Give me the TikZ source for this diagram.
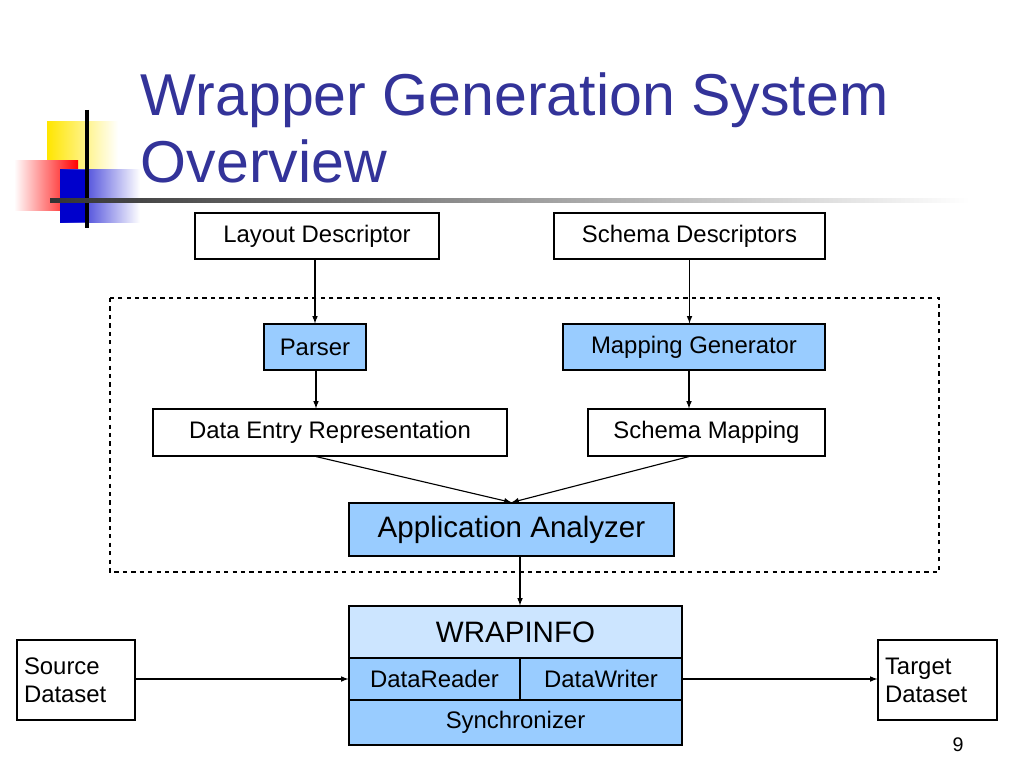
\documentclass[tikz,border=0pt]{standalone}
\usepackage{fontspec}
\setmainfont{Liberation Sans}
\usetikzlibrary{positioning}
\definecolor{titleblue}{RGB}{51,51,153}
\definecolor{boxblue}{RGB}{153,204,255}
\definecolor{paleblue}{RGB}{204,229,255}
\begin{document}
\begin{tikzpicture}[x=0.025cm, y=-0.025cm,
    box/.style = {draw, thick, inner sep=0pt, font=\fontsize{17}{20}\selectfont},
    blue/.style = {box, fill=boxblue},
    link/.style = {-latex, thick}]
    \useasboundingbox (0,0) rectangle (1024,768);

    % logo and title rule
    \shade[left color=yellow!80!orange, right color=white] (47,122) rectangle (118,190);
    \shade[left color=white, right color=red] (14,161) rectangle (78,210);
    \shade[left color=blue!80!black, right color=white] (60,170) rectangle (140,222);
    \fill[blue!80!black] (60,170) rectangle (88,222);
    \draw[line width=2.5pt] (87,110) -- (87,228);
    \shade[left color=black!80, right color=white] (50,198) rectangle (970,202);
    \node[anchor=west, text=titleblue, align=left, font=\fontsize{42}{48}\selectfont] (title) at (136,128) {Wrapper Generation System\\Overview};

    % inputs
    \node[box, minimum width=244*0.025cm, minimum height=46*0.025cm] (layout) at (317,236) {Layout Descriptor};
    \node[box, minimum width=271*0.025cm, minimum height=46*0.025cm] (schema) at (689.5,236) {Schema Descriptors};

    % generator
    \draw[thick, dashed] (110,298) rectangle (939,572);
    \node[blue, minimum width=102*0.025cm, minimum height=46*0.025cm] (parser) at (315,347) {Parser};
    \node[blue, minimum width=262*0.025cm, minimum height=46*0.025cm] (mapgen) at (694,347) {Mapping Generator};
    \node[box, minimum width=354*0.025cm, minimum height=47*0.025cm] (entry) at (330,432.5) {Data Entry Representation};
    \node[box, minimum width=237*0.025cm, minimum height=47*0.025cm] (mapping) at (706.5,432.5) {Schema Mapping};
    \node[blue, minimum width=325*0.025cm, minimum height=53*0.025cm, font=\fontsize{21}{24}\selectfont] (analyzer) at (511.5,529.5) {Application Analyzer};

    % wrapinfo
    \node[box, fill=paleblue, minimum width=333*0.025cm, minimum height=52*0.025cm, font=\fontsize{21}{24}\selectfont] (wrapinfo) at (515.5,632) {WRAPINFO};
    \node[blue, minimum width=171*0.025cm, minimum height=42*0.025cm] (reader) at (434.5,679) {DataReader};
    \node[blue, minimum width=162*0.025cm, minimum height=42*0.025cm] (writer) at (601,679) {DataWriter};
    \node[blue, minimum width=333*0.025cm, minimum height=45*0.025cm] (sync) at (515.5,722.5) {Synchronizer};

    % datasets
    \node[box, align=left, minimum width=118*0.025cm, minimum height=80*0.025cm, text width=104*0.025cm] (source) at (76,680) {Source\\Dataset};
    \node[box, align=left, minimum width=119*0.025cm, minimum height=80*0.025cm, text width=105*0.025cm] (target) at (937.5,680) {Target\\Dataset};
    \node[font=\fontsize{14}{16}\selectfont] (page) at (958,745) {9};

    \draw[link] (layout.south -| parser) -- (parser);
    \draw[link] (parser.south -| 316,0) -- (entry.north -| 316,0);
    \draw[link] (schema.south) -- (schema.south |- mapgen.north);
    \draw[link] (mapgen.south -| 689,0) -- (mapping.north -| 689,0);
    \draw[link] (entry.south -| 316,0) -- (analyzer.north);
    \draw[link] (mapping.south -| 689,0) -- (analyzer.north);
    \draw[link] (analyzer.south -| 520,0) -- (wrapinfo.north -| 520,0);
    \draw[link] (source.east |- reader) -- (reader.west);
    \draw[link] (writer.east) -- (target.west |- writer);
\end{tikzpicture}
\end{document}
